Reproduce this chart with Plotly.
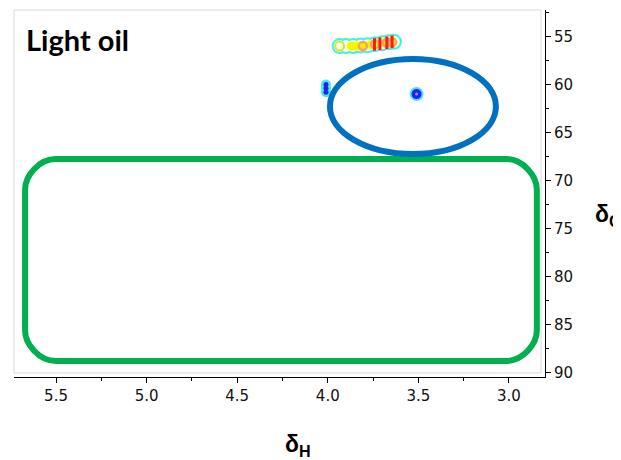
import plotly.graph_objects as go

# ---- data ----
# main cross-peak cluster (delta_H, delta_C)
cluster_x = [3.935, 3.90, 3.86, 3.82, 3.78, 3.74, 3.70, 3.665, 3.635]
cluster_y = [55.95, 55.95, 55.95, 55.9, 55.85, 55.75, 55.65, 55.55, 55.5]
yellow_x = [3.87, 3.84, 3.80, 3.76, 3.72, 3.685, 3.65]
yellow_y = [55.95, 55.95, 55.9, 55.8, 55.7, 55.6, 55.55]
ring_x = [3.935]
ring_y = [55.95]
orange_x = [3.806, 3.74, 3.674, 3.645]
orange_y = [55.95, 55.75, 55.6, 55.55]
red_x = [3.742, 3.712, 3.674, 3.645]
red_y = [55.78, 55.7, 55.6, 55.5]
# weak (blue) cross-peaks
blue1_x = [4.01, 4.01, 4.01]
blue1_y = [59.95, 60.35, 60.75]
blue2_x = [3.51]
blue2_y = [60.95]

x_ticks = [5.5, 5.0, 4.5, 4.0, 3.5, 3.0]
y_ticks = [55, 60, 65, 70, 75, 80, 85, 90]

TICKFONT = dict(family="DejaVu Sans", size=15, color="#111")

fig = go.Figure()


def pts(x, y, **marker):
    fig.add_trace(go.Scatter(x=x, y=y, mode="markers", marker=marker,
                             hoverinfo="skip", showlegend=False))


# cluster: cyan outer contour, pale interior, yellow, orange/red cores
pts(cluster_x, cluster_y, size=16, color="#44F0E4", line=dict(width=0))
pts(cluster_x, cluster_y, size=12, color="#F4FFE6", line=dict(width=0))
pts(yellow_x, yellow_y, size=9, color="#F6F600", line=dict(width=0))
pts(ring_x, ring_y, size=9, symbol="circle-open", color="#D0E830",
    line=dict(width=2, color="#D0E830"))
pts(orange_x, orange_y, size=8, symbol="circle-open",
    line=dict(width=2.5, color="#FF8A00"))
pts(red_x, red_y, size=9, symbol="line-ns", line=dict(width=3, color="#F02010"))

# blue peaks
pts(blue1_x, blue1_y, size=10, color="#44E8F0", line=dict(width=0))
pts(blue1_x, blue1_y, size=5, color="#2020F0", line=dict(width=0))
pts(blue2_x, blue2_y, size=14, color="#44E8F0", line=dict(width=0))
pts(blue2_x, blue2_y, size=10, color="#2020F0", line=dict(width=0))
pts(blue2_x, blue2_y, size=3, color="#9090FF", line=dict(width=0))

# ---- annotation shapes ----
ELL = dict(x0=3.988, x1=3.072, y0=57.29, y1=67.19)
RR = dict(xl=5.671, xr=2.846, yt=67.71, yb=88.75, rx=0.17, ry=3.2)
k = 0.4477
xl, xr, yt, yb, rx, ry = RR["xl"], RR["xr"], RR["yt"], RR["yb"], RR["rx"], RR["ry"]
path = (f"M {xl - rx},{yt} L {xr + rx},{yt} "
        f"C {xr + rx * k},{yt} {xr},{yt + ry * (1 - k)} {xr},{yt + ry} "
        f"L {xr},{yb - ry} "
        f"C {xr},{yb - ry * (1 - k)} {xr + rx * k},{yb} {xr + rx},{yb} "
        f"L {xl - rx},{yb} "
        f"C {xl - rx * k},{yb} {xl},{yb - ry * (1 - k)} {xl},{yb - ry} "
        f"L {xl},{yt + ry} "
        f"C {xl},{yt + ry * (1 - k)} {xl - rx * k},{yt} {xl - rx},{yt} Z")

shapes = [
    dict(type="rect", xref="paper", yref="paper", x0=0, x1=0.9925, y0=0.011, y1=1,
         line=dict(color="#D9D9D9", width=1), layer="below"),
    dict(type="path", xref="x", yref="y", path=path,
         line=dict(color="#00B050", width=6)),
    dict(type="circle", xref="x", yref="y", **ELL,
         line=dict(color="#0070C0", width=6)),
]

# page body has an 8px margin, so margins are offset by 8px
fig.update_layout(
    width=621, height=460,
    margin=dict(l=6, r=84, t=2, b=91),
    paper_bgcolor="white", plot_bgcolor="white",
    shapes=shapes,
    xaxis=dict(range=[5.732, 2.801], tickvals=x_ticks,
               ticktext=[f"{v:.1f}" for v in x_ticks],
               ticks="outside", ticklen=5, tickcolor="black",
               minor=dict(dtick=0.25, ticks="outside", ticklen=3, tickcolor="black"),
               showline=True, linecolor="black", linewidth=1,
               showgrid=False, zeroline=False, tickfont=TICKFONT),
    yaxis=dict(range=[90.42, 52.19], side="right", tickvals=y_ticks,
               ticks="outside", ticklen=5, tickcolor="black",
               minor=dict(dtick=2.5, ticks="outside", ticklen=3, tickcolor="black"),
               showline=True, linecolor="black", linewidth=1,
               showgrid=False, zeroline=False, tickfont=TICKFONT),
    annotations=[
        dict(text="<b>Light oil</b>", xref="paper", yref="paper",
             x=(24 - 14) / 531, y=1 - (40 - 10) / 367, xanchor="left", yanchor="middle",
             showarrow=False, font=dict(family="Lato", size=29, color="black")),
        dict(text="<b>δ<sub>H</sub></b>", xref="paper", yref="paper",
             x=(298 - 14) / 531, y=1 - (445 - 10) / 367, xanchor="center", yanchor="middle",
             showarrow=False, font=dict(family="Liberation Sans, Arial", size=23, color="black")),
        dict(text="<b>δ<sub>C</sub></b>", xref="paper", yref="paper",
             x=(593 - 14) / 531, y=1 - (215 - 10) / 367, xanchor="left", yanchor="middle",
             showarrow=False, font=dict(family="Liberation Sans, Arial", size=23, color="black")),
    ],
)

fig.write_html("out.html")
